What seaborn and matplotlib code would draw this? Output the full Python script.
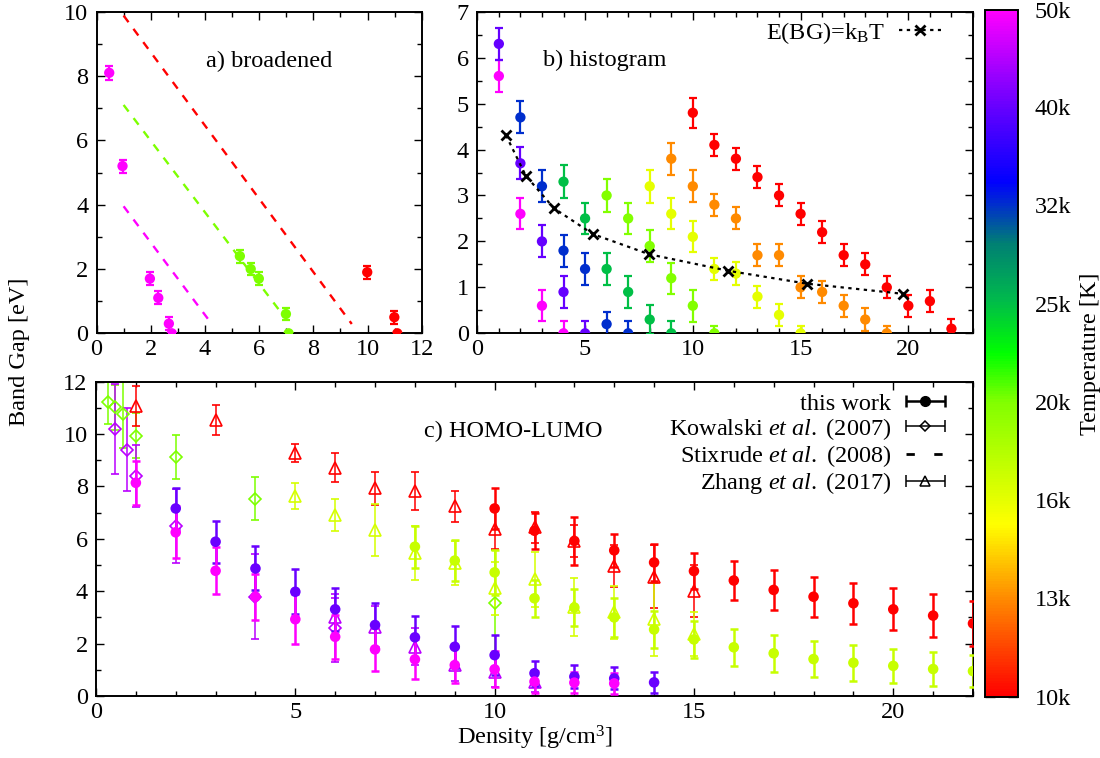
import numpy as np
import pandas as pd
import matplotlib
matplotlib.use("Agg")
import matplotlib.pyplot as plt
import seaborn as sns
from matplotlib.colors import LinearSegmentedColormap, LogNorm
from matplotlib.cm import ScalarMappable
from matplotlib.lines import Line2D
from matplotlib.ticker import MultipleLocator, NullLocator
from matplotlib.container import ErrorbarContainer
from matplotlib.legend_handler import HandlerErrorbar

# ---------------- colour scale (temperature, log) ----------------
CB_TICKS = [10000, 12589, 15849, 19953, 25119, 31623, 39811, 50000]
CB_LABELS = ["10k", "13k", "16k", "20k", "25k", "32k", "40k", "50k"]
CMAP_POS = [0.0, 0.143, 0.25, 0.43, 0.5, 0.58, 0.66, 0.75, 0.86, 1.0]
CMAP_COL = ["#ff0000", "#ff8c00", "#ffff00", "#80ff00", "#00ff00",
            "#00b84d", "#008073", "#0000ff", "#6600ff", "#ff00ff"]

# ---------------- panel a) broadened ----------------
A_TEMPS = [50000, 20000, 10000]
A_DENS = [[0.47, 0.96, 1.97, 2.28, 2.67, 2.78],
          [5.29, 5.69, 5.99, 6.99, 7.09],
          [9.99, 10.99, 11.1]]
A_GAP = [[8.1, 5.2, 1.7, 1.1, 0.3, 0.0],
         [2.4, 2.0, 1.7, 0.6, 0.0],
         [1.9, 0.5, 0.0]]
A_ERR = [[0.22, 0.2, 0.2, 0.2, 0.2, 0.0],
         [0.2, 0.2, 0.2, 0.2, 0.0],
         [0.2, 0.2, 0.0]]
A_FIT_X = [[1.0, 4.28], [1.0, 6.85], [1.0, 9.42]]
A_FIT_Y = [[3.95, 0.26], [7.1, 0.6], [9.88, 0.29]]

# ---------------- panel b) histogram ----------------
B_TEMPS = [50000, 39811, 31623, 25119, 19953, 15849, 12589, 10000]
B_DENS = [[1, 2, 3, 4],
          [1, 2, 3, 4, 5],
          [2, 3, 4, 5, 6, 7],
          [4, 5, 6, 7, 8, 9],
          [6, 7, 8, 9, 10, 11],
          [8, 9, 10, 11, 12, 13, 14, 15],
          [9, 10, 11, 12, 13, 14, 15, 16, 17, 18, 19],
          [10, 11, 12, 13, 14, 15, 16, 17, 18, 19, 20, 21, 22]]
B_GAP = [[5.6, 2.6, 0.6, 0.0],
         [6.3, 3.7, 2.0, 0.9, 0.0],
         [4.7, 3.2, 1.8, 1.4, 0.2, 0.0],
         [3.3, 2.5, 1.4, 0.9, 0.3, 0.0],
         [3.0, 2.5, 1.9, 1.2, 0.6, 0.0],
         [3.2, 2.6, 2.1, 1.4, 1.3, 0.8, 0.4, 0.0],
         [3.8, 3.2, 2.8, 2.5, 1.7, 1.7, 1.0, 0.9, 0.6, 0.3, 0.0],
         [4.8, 4.1, 3.8, 3.4, 3.0, 2.6, 2.2, 1.7, 1.5, 1.0, 0.6, 0.7, 0.1]]
B_ERR = [[0.35, 0.34, 0.34, 0.27],
         [0.35, 0.35, 0.35, 0.34, 0.27],
         [0.35, 0.35, 0.35, 0.35, 0.26, 0.27],
         [0.36, 0.34, 0.35, 0.34, 0.32, 0.27],
         [0.35, 0.34, 0.35, 0.34, 0.35, 0.16],
         [0.36, 0.34, 0.34, 0.24, 0.25, 0.24, 0.24, 0.16],
         [0.35, 0.35, 0.24, 0.24, 0.24, 0.24, 0.24, 0.24, 0.24, 0.24, 0.16],
         [0.33, 0.23, 0.24, 0.24, 0.24, 0.24, 0.24, 0.24, 0.24, 0.24, 0.24, 0.24, 0.22]]
KBT_DENS = [1.33, 2.25, 3.56, 5.36, 7.98, 11.65, 15.30, 19.74]
KBT_GAP = [4.31, 3.43, 2.72, 2.16, 1.72, 1.36, 1.08, 0.86]

# ---------------- panel c) HOMO-LUMO ----------------
TW_TEMPS = [10000, 17000, 40000, 50000]
TW_DENS = [[10, 11, 12, 13, 14, 15, 16, 17, 18, 19, 20, 21, 22],
           [8, 9, 10, 11, 12, 13, 14, 15, 16, 17, 18, 19, 20, 21, 22],
           [2, 3, 4, 5, 6, 7, 8, 9, 10, 11, 12, 13, 14],
           [1, 2, 3, 4, 5, 6, 7, 8, 9, 10, 11, 12, 13]]
TW_GAP = [[7.16, 6.31, 5.92, 5.56, 5.10, 4.77, 4.41, 4.05, 3.79, 3.54, 3.31, 3.07, 2.77],
          [5.70, 5.17, 4.72, 3.73, 3.38, 3.00, 2.54, 2.16, 1.86, 1.63, 1.41, 1.27, 1.15, 1.03, 0.95],
          [7.16, 5.89, 4.87, 3.98, 3.31, 2.71, 2.24, 1.88, 1.56, 0.87, 0.74, 0.67, 0.52],
          [8.14, 6.25, 4.78, 3.79, 2.93, 2.26, 1.78, 1.40, 1.18, 1.02, 0.55, 0.51, 0.48]]
TW_ERR = [[0.8, 0.68, 0.9, 0.64, 0.7, 0.7, 0.73, 0.75, 0.76, 0.79, 0.8, 0.81, 0.85],
          [0.8, 0.79, 0.85, 0.7, 0.7, 0.76, 0.7, 0.72, 0.71, 0.71, 0.7, 0.69, 0.66, 0.65, 0.6],
          [0.77, 0.81, 0.84, 0.85, 0.83, 0.84, 0.81, 0.8, 0.75, 0.48, 0.45, 0.42, 0.39],
          [0.85, 1.0, 0.89, 0.88, 0.95, 0.85, 0.82, 0.76, 0.7, 0.68, 0.42, 0.4, 0.4]]

ZH_TEMPS = [10000, 16500, 45000]
ZH_DENS = [[1, 3, 5, 6, 7, 8, 9, 10, 11, 12, 13, 14, 15],
           [5, 6, 7, 8, 9, 10, 11, 12, 13, 14, 15],
           [6, 7, 8, 9, 10, 11]]
ZH_GAP = [[11.07, 10.53, 9.29, 8.72, 7.93, 7.84, 7.25, 6.36, 6.44, 5.92, 4.96, 4.55, 4.01],
          [7.63, 6.91, 6.34, 5.46, 5.06, 4.11, 4.45, 3.40, 3.19, 2.93, 2.35],
          [3.03, 2.65, 1.88, 1.18, 0.93, 0.55]]
ZH_ERR = [[0.75, 0.57, 0.35, 0.54, 0.62, 0.73, 0.59, 0.75, 0.6, 0.62, 0.8, 1.2, 1.0],
          [0.5, 0.6, 1.0, 1.04, 0.84, 1.0, 1.06, 1.1, 1.0, 1.4, 0.84],
          [0.7, 0.8, 0.7, 0.6, 0.6, 0.4]]

KO_TEMPS = [20000, 45000]
KO_DENS = [[0.31, 0.48, 0.67, 1.0, 2.0, 4.0, 10.0],
           [0.48, 0.79, 1.0, 2.0, 4.0, 6.0]]
KO_GAP = [[11.23, 11.02, 10.75, 9.94, 9.13, 7.54, 3.54],
          [10.19, 9.41, 8.40, 6.49, 3.79, 2.58]]
KO_ERR = [[0.85, 0.85, 1.3, 0.86, 0.85, 0.83, 2.04],
          [1.72, 1.6, 1.17, 1.4, 1.62, 1.3]]

LEGEND_C = ["this work", r"Kowalski $\mathit{et\ al.}$ (2007)",
            r"Stixrude $\mathit{et\ al.}$ (2008)", r"Zhang $\mathit{et\ al.}$ (2017)"]

# ---------------- style ----------------
sns.set_theme(style="ticks")
plt.rcParams.update({
    "font.family": ["Liberation Serif", "DejaVu Serif"],
    "mathtext.fontset": "custom",
    "mathtext.rm": "Liberation Serif",
    "mathtext.it": "Liberation Serif:italic",
    "mathtext.bf": "Liberation Serif:bold",
    "font.size": 17.5,
    "axes.linewidth": 1.4,
    "axes.edgecolor": "black",
    "xtick.color": "black",
    "ytick.color": "black",
    "text.color": "black",
    "axes.labelcolor": "black",
})
FS = 17.5

cmap = LinearSegmentedColormap.from_list("temp", list(zip(CMAP_POS, CMAP_COL)))
norm = LogNorm(vmin=10000, vmax=50000)


def col(T):
    return cmap(norm(T))


fig = plt.figure(figsize=(11, 7.58), dpi=100)
W, H = 1100, 758


def add_ax(x0, y0, x1, y1):
    return fig.add_axes([x0 / W, 1 - y1 / H, (x1 - x0) / W, (y1 - y0) / H])


axa = add_ax(96.5, 11.7, 421.7, 333.3)
axb = add_ax(477.3, 11.7, 973.0, 333.3)
axc = add_ax(96.0, 381.7, 973.0, 696.0)
cax = add_ax(985.0, 10.0, 1018.0, 696.7)


def style_ax(ax, xmaj, xmin, ymaj, ymin):
    ax.xaxis.set_major_locator(MultipleLocator(xmaj))
    ax.xaxis.set_minor_locator(MultipleLocator(xmin))
    ax.yaxis.set_major_locator(MultipleLocator(ymaj))
    ax.yaxis.set_minor_locator(MultipleLocator(ymin))
    ax.tick_params(which="both", direction="in", top=True, right=True,
                   labelsize=FS, width=1.0)
    ax.tick_params(which="major", length=6)
    ax.tick_params(which="minor", length=3.5)
    ax.tick_params(axis="x", pad=4)
    ax.tick_params(axis="y", pad=6)
    for s in ax.spines.values():
        s.set_linewidth(1.4)
        s.set_color("black")
    ax.set_xlabel("")
    ax.set_ylabel("")


def draw_series(ax, temps, dens, gap, err, lw, cs, ms_s):
    rows = []
    for T, xs, ys, es in zip(temps, dens, gap, err):
        ax.errorbar(xs, ys, yerr=es, fmt="none", ecolor=col(T), elinewidth=lw,
                    capsize=cs, capthick=lw, zorder=3)
        for x, y in zip(xs, ys):
            rows.append({"density": x, "gap": y, "T": T})
    df = pd.DataFrame(rows)
    sns.scatterplot(data=df, x="density", y="gap", hue="T", hue_norm=norm,
                    palette=cmap, s=ms_s, linewidth=0, legend=False, ax=ax,
                    zorder=4)


# ----- panel a -----
for T, fx, fy in zip(A_TEMPS, A_FIT_X, A_FIT_Y):
    sns.lineplot(x=fx, y=fy, ax=axa, color=col(T), lw=1.7,
                 linestyle=(0, (3.5, 3.5)), zorder=2)
draw_series(axa, A_TEMPS, A_DENS, A_GAP, A_ERR, 1.6, 3, 55)
axa.set_xlim(0, 12)
axa.set_ylim(0, 10)
style_ax(axa, 2, 1, 2, 1)
axa.text(0.53, 0.845, "a) broadened", transform=axa.transAxes,
         ha="center", va="center", fontsize=FS)

# ----- panel b -----
draw_series(axb, B_TEMPS, B_DENS, B_GAP, B_ERR, 1.6, 3, 55)
sns.lineplot(x=KBT_DENS, y=KBT_GAP, ax=axb, color="black", lw=1.6,
             linestyle=(0, (1.5, 2)), marker="x", markersize=7,
             markeredgewidth=2, markeredgecolor="black", zorder=5)
axb.set_xlim(0, 23)
axb.set_ylim(0, 7)
style_ax(axb, 5, 1, 1, 0.5)
axb.text(0.2576, 0.847, "b) histogram", transform=axb.transAxes,
         ha="center", va="center", fontsize=FS)
kbt_handle = Line2D([], [], color="black", lw=1.6, linestyle=(0, (1.5, 2)),
                    marker="x", markersize=7, markeredgewidth=2)
axb.legend([kbt_handle], [r"E(BG)=k$_\mathrm{B}$T"], loc="upper right",
           bbox_to_anchor=(0.935, 0.975), frameon=False, markerfirst=False,
           handlelength=1.7, handletextpad=0.6, borderpad=0, borderaxespad=0,
           fontsize=FS, numpoints=1)

# ----- panel c -----
for T, xs, ys, es in zip(KO_TEMPS, KO_DENS, KO_GAP, KO_ERR):
    axc.errorbar(xs, ys, yerr=es, fmt="D", ms=6.5, mfc="none", mec=col(T),
                 mew=1.2, ecolor=col(T), elinewidth=1.1, capsize=3,
                 capthick=1.1, zorder=2)
for T, xs, ys, es in zip(ZH_TEMPS, ZH_DENS, ZH_GAP, ZH_ERR):
    axc.errorbar(xs, ys, yerr=es, fmt="^", ms=8, mfc="none", mec=col(T),
                 mew=1.2, ecolor=col(T), elinewidth=1.1, capsize=3,
                 capthick=1.1, zorder=2)
draw_series(axc, TW_TEMPS, TW_DENS, TW_GAP, TW_ERR, 1.8, 3, 58)
axc.set_xlim(0, 22)
axc.set_ylim(0, 12)
style_ax(axc, 5, 1, 2, 1)
axc.text(0.4755, 0.841, "c) HOMO-LUMO", transform=axc.transAxes,
         ha="center", va="center", fontsize=FS)
axc.set_xlabel(r"Density [g/cm$^3$]", fontsize=FS, labelpad=1)

nan = [np.nan]
h_tw = axc.errorbar(nan, nan, xerr=[1], fmt="o", color="black", ms=7,
                    elinewidth=1.8, capsize=4, capthick=1.8)
h_ko = axc.errorbar(nan, nan, xerr=[1], fmt="D", ms=5.5, mfc="none",
                    mec="black", color="black", mew=1.1, elinewidth=1.1,
                    capsize=4, capthick=1.1)
h_st = Line2D([], [], color="black", lw=2, linestyle=(0, (3, 7)))
h_zh = axc.errorbar(nan, nan, xerr=[1], fmt="^", ms=7, mfc="none",
                    mec="black", color="black", mew=1.1, elinewidth=1.1,
                    capsize=4, capthick=1.1)
axc.legend([h_tw, h_ko, h_st, h_zh], LEGEND_C, loc="upper right",
           bbox_to_anchor=(0.968, 0.965), frameon=False, markerfirst=False,
           handlelength=1.6, handletextpad=0.6, borderpad=0, borderaxespad=0,
           labelspacing=0.05, fontsize=FS, numpoints=1,
           handler_map={ErrorbarContainer: HandlerErrorbar(xerr_size=0.8)})

# ----- common y label -----
fig.text(20 / W, 1 - 352 / H, "Band Gap [eV]", rotation=90, ha="center",
         va="center", fontsize=FS)

# ----- colour bar -----
sm = ScalarMappable(norm=norm, cmap=cmap)
cb = fig.colorbar(sm, cax=cax)
cb.set_ticks(CB_TICKS)
cb.set_ticklabels(CB_LABELS)
cax.yaxis.set_minor_locator(NullLocator())
cax.tick_params(which="major", direction="in", left=True, right=True,
                length=7, width=1.0, color="#333333", labelsize=FS, pad=12)
cb.outline.set_linewidth(1.4)
cb.set_label("Temperature [K]", fontsize=FS, labelpad=6)

fig.savefig("out.png", dpi=100)
